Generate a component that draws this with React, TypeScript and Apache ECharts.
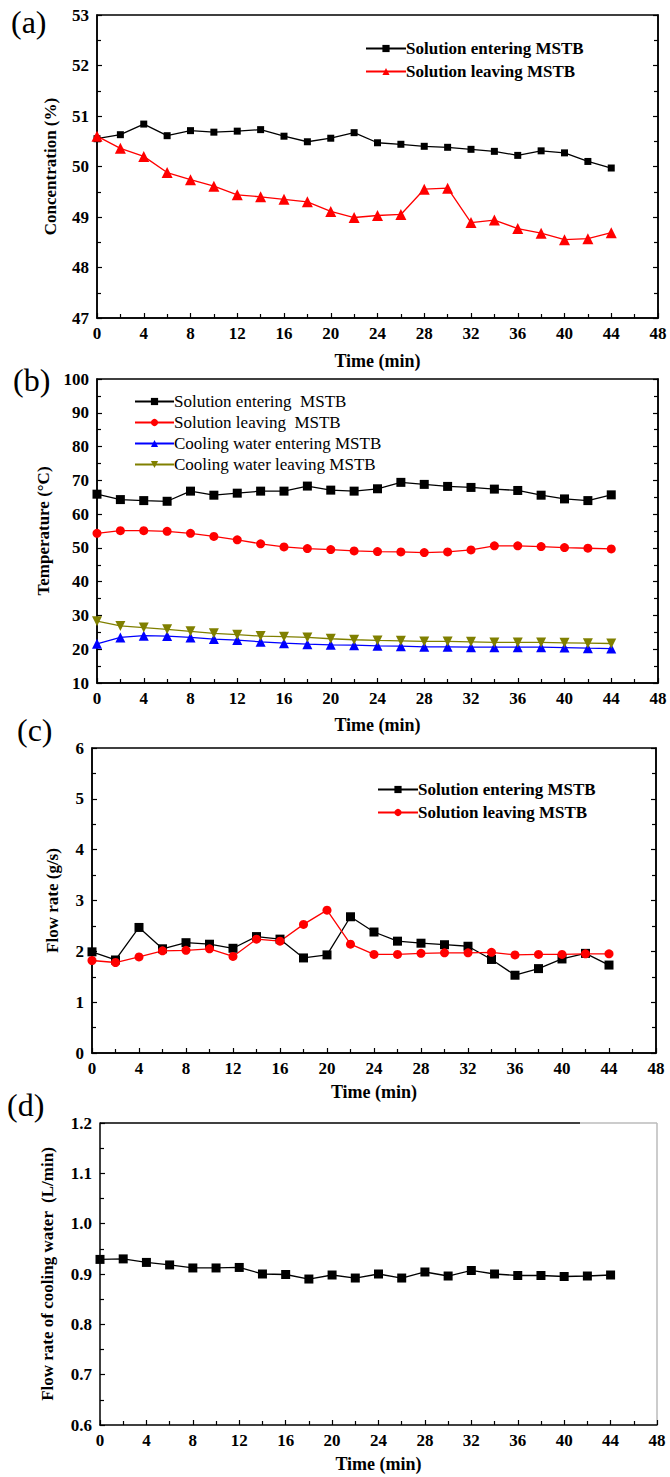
import React, { useEffect, useRef } from "react";
import * as echarts from "echarts";

const times = [0, 2, 4, 6, 8, 10, 12, 14, 16, 18, 20, 22, 24, 26, 28, 30, 32, 34, 36, 38, 40, 42, 44];

// (a) Concentration (%)
const concEntering = [50.55, 50.63, 50.84, 50.61, 50.71, 50.68, 50.70, 50.73, 50.60, 50.49, 50.56, 50.67, 50.47, 50.44, 50.40, 50.38, 50.34, 50.30, 50.22, 50.31, 50.27, 50.10, 49.97];
const concLeaving = [50.60, 50.36, 50.20, 49.88, 49.74, 49.61, 49.44, 49.40, 49.35, 49.30, 49.11, 48.99, 49.03, 49.05, 49.55, 49.57, 48.89, 48.94, 48.77, 48.68, 48.55, 48.57, 48.69];

// (b) Temperature (°C)
const tempSolEntering = [65.9, 64.3, 64.0, 63.8, 66.8, 65.6, 66.2, 66.8, 66.8, 68.3, 67.1, 66.8, 67.5, 69.4, 68.8, 68.2, 67.9, 67.4, 67.0, 65.6, 64.5, 64.0, 65.7];
const tempSolLeaving = [54.3, 55.1, 55.1, 54.9, 54.3, 53.4, 52.4, 51.2, 50.3, 49.8, 49.5, 49.1, 48.9, 48.8, 48.6, 48.8, 49.4, 50.6, 50.6, 50.4, 50.1, 49.9, 49.7];
const tempCwEntering = [21.6, 23.5, 24.0, 23.9, 23.5, 23.0, 22.7, 22.2, 21.8, 21.5, 21.3, 21.2, 21.0, 20.9, 20.7, 20.7, 20.6, 20.6, 20.6, 20.6, 20.5, 20.3, 20.2];
const tempCwLeaving = [28.3, 26.9, 26.4, 25.9, 25.3, 24.7, 24.3, 23.9, 23.7, 23.5, 23.1, 22.8, 22.6, 22.5, 22.3, 22.3, 22.2, 22.0, 22.0, 22.0, 21.9, 21.8, 21.7];

// (c) Flow rate (g/s)
const flowEntering = [1.99, 1.83, 2.47, 2.05, 2.17, 2.14, 2.06, 2.29, 2.24, 1.87, 1.93, 2.68, 2.38, 2.20, 2.16, 2.13, 2.10, 1.84, 1.53, 1.66, 1.85, 1.96, 1.73];
const flowLeaving = [1.82, 1.78, 1.89, 2.01, 2.02, 2.05, 1.90, 2.24, 2.20, 2.53, 2.81, 2.14, 1.94, 1.94, 1.96, 1.97, 1.97, 1.98, 1.93, 1.94, 1.94, 1.95, 1.95];

// (d) Flow rate of cooling water (L/min)
const coolingFlow = [0.929, 0.930, 0.923, 0.918, 0.912, 0.912, 0.913, 0.900, 0.899, 0.890, 0.898, 0.892, 0.900, 0.892, 0.904, 0.896, 0.907, 0.900, 0.897, 0.897, 0.895, 0.896, 0.898];

const xTicks = { min: 0, max: 48, interval: 4 };
const yRanges = [
  { min: 47, max: 53, interval: 1, digits: 0 },
  { min: 10, max: 100, interval: 10, digits: 0 },
  { min: 0, max: 6, interval: 1, digits: 0 },
  { min: 0.6, max: 1.2, interval: 0.1, digits: 1 },
];
const xTitle = "Time (min)";
const yTitles = ["Concentration (%)", "Temperature (\u00b0C)", "Flow rate (g/s)", "Flow rate of cooling water  (L/min)"];
const panelLetters = ["(a)", "(b)", "(c)", "(d)"];

const FONT = '"Liberation Serif", "Times New Roman", serif';

const pairs = (ys: number[]) => times.map((t, i) => [t, ys[i]]);

export default function App() {
  const ref = useRef<HTMLDivElement>(null);

  useEffect(() => {
    if (!ref.current) return;
    const chart = echarts.init(ref.current, undefined, { renderer: "svg" });

    const grids = [
      { left: 97, top: 15, width: 561, height: 303 },
      { left: 97, top: 379, width: 561, height: 304 },
      { left: 92, top: 748, width: 564, height: 305 },
      { left: 100, top: 1123, width: 557, height: 302 },
    ];
    const xNameGaps = [34, 33, 30, 30];
    const yNameGaps = [38, 45, 31, 44];

    const xAxes: any[] = grids.map((_, i) => ({
      type: "value",
      gridIndex: i,
      ...xTicks,
      name: xTitle,
      nameLocation: "middle",
      nameGap: xNameGaps[i],
      nameTextStyle: { fontFamily: FONT, fontWeight: "bold", fontSize: 18, color: "#000" },
      axisLine: { show: true, lineStyle: { color: "#000", width: 1.5 } },
      axisTick: { show: true, inside: true, length: 5, lineStyle: { color: "#000", width: 1.2 } },
      minorTick: { show: true, splitNumber: 2, length: 4, lineStyle: { color: "#000", width: 1.2 } },
      splitLine: { show: false },
      axisLabel: { fontFamily: FONT, fontWeight: "bold", fontSize: 17, color: "#000", margin: 7 },
    }));

    const yAxes: any[] = [];
    grids.forEach((_, i) => {
      const r = yRanges[i];
      yAxes.push({
        type: "value",
        gridIndex: i,
        min: r.min,
        max: r.max,
        interval: r.interval,
        name: yTitles[i],
        nameLocation: "middle",
        nameGap: yNameGaps[i],
        nameTextStyle: { fontFamily: FONT, fontWeight: "bold", fontSize: 17, color: "#000" },
        axisLine: { show: true, lineStyle: { color: "#000", width: 1.5 } },
        axisTick: { show: true, inside: true, length: 5, lineStyle: { color: "#000", width: 1.2 } },
        minorTick: { show: true, splitNumber: 2, length: 4, lineStyle: { color: "#000", width: 1.2 } },
        splitLine: { show: false },
        axisLabel: {
          fontFamily: FONT,
          fontWeight: "bold",
          fontSize: 17,
          color: "#000",
          margin: 8,
          formatter: (v: number) => v.toFixed(r.digits),
        },
      });
      if (i < 3) {
        yAxes.push({
          type: "value",
          gridIndex: i,
          position: "right",
          min: r.min,
          max: r.max,
          interval: r.interval,
          axisLine: { show: true, lineStyle: { color: "#000", width: 1.5 } },
          axisTick: { show: true, inside: true, length: 5, lineStyle: { color: "#000", width: 1.2 } },
          minorTick: { show: true, splitNumber: 2, length: 4, lineStyle: { color: "#000", width: 1.2 } },
          splitLine: { show: false },
          axisLabel: { show: false },
        });
      }
    });
    // y axis indices: a:0(left),1(right); b:2,3; c:4,5; d:6
    const yIdx = [0, 2, 4, 6];

    const mk = (name: string, grid: number, ys: number[], color: string, symbol: string, size: number, rotate = 0) => ({
      type: "line",
      name,
      xAxisIndex: grid,
      yAxisIndex: yIdx[grid],
      data: pairs(ys),
      symbol,
      symbolSize: size,
      symbolRotate: rotate,
      itemStyle: { color },
      lineStyle: { color, width: 1.3 },
      z: 3,
    });

    const series: any[] = [
      mk("a|Solution entering MSTB", 0, concEntering, "#000000", "rect", 7),
      mk("a|Solution leaving MSTB", 0, concLeaving, "#ff0000", "triangle", 11),
      mk("b|Solution entering  MSTB", 1, tempSolEntering, "#000000", "rect", 9),
      mk("b|Solution leaving  MSTB", 1, tempSolLeaving, "#ff0000", "circle", 9),
      mk("b|Cooling water entering MSTB", 1, tempCwEntering, "#0000ff", "triangle", 10),
      mk("b|Cooling water leaving MSTB", 1, tempCwLeaving, "#808000", "triangle", 10, 180),
      mk("c|Solution entering MSTB", 2, flowEntering, "#000000", "rect", 9),
      mk("c|Solution leaving MSTB", 2, flowLeaving, "#ff0000", "circle", 9),
      mk("d|Cooling water", 3, coolingFlow, "#000000", "rect", 9),
    ];

    const legendBase = {
      orient: "vertical",
      itemWidth: 40,
      itemHeight: 9,
      formatter: (n: string) => n.split("|")[1],
      selectedMode: false,
    };
    const legends: any[] = [
      {
        ...legendBase,
        left: 360,
        top: 35,
        itemGap: 6,
        data: ["a|Solution entering MSTB", "a|Solution leaving MSTB"],
        textStyle: { fontFamily: FONT, fontWeight: "bold", fontSize: 17, color: "#000", padding: [0, 0, 0, -5] },
      },
      {
        ...legendBase,
        left: 129,
        top: 388,
        itemGap: 4,
        itemWidth: 39,
        data: [
          "b|Solution entering  MSTB",
          "b|Solution leaving  MSTB",
          "b|Cooling water entering MSTB",
          "b|Cooling water leaving MSTB",
        ],
        textStyle: { fontFamily: FONT, fontWeight: "normal", fontSize: 17, color: "#000", padding: [0, 0, 0, -5] },
      },
      {
        ...legendBase,
        left: 372,
        top: 776,
        itemGap: 6,
        data: ["c|Solution entering MSTB", "c|Solution leaving MSTB"],
        textStyle: { fontFamily: FONT, fontWeight: "bold", fontSize: 17, color: "#000", padding: [0, 0, 0, -5] },
      },
    ];

    const letterPos = [
      [11, 6],
      [13, 364],
      [17, 714],
      [7, 1089],
    ];
    const graphics: any[] = panelLetters.map((t, i) => ({
      type: "text",
      left: letterPos[i][0],
      top: letterPos[i][1],
      style: { text: t, fontFamily: FONT, fontSize: 32, fill: "#000" },
    }));
    // (d) frame: top and right borders
    const gd = grids[3];
    graphics.push(
      {
        type: "line",
        shape: { x1: gd.left, y1: gd.top, x2: 580, y2: gd.top },
        style: { stroke: "#000", lineWidth: 1.5 },
      },
      {
        type: "line",
        shape: { x1: 580, y1: gd.top, x2: gd.left + gd.width, y2: gd.top },
        style: { stroke: "#bbbbbb", lineWidth: 1.5 },
      },
      {
        type: "line",
        shape: { x1: gd.left + gd.width, y1: gd.top, x2: gd.left + gd.width, y2: gd.top + gd.height },
        style: { stroke: "#bbbbbb", lineWidth: 1.5 },
      }
    );

    chart.setOption({
      animation: false,
      backgroundColor: "#ffffff",
      grid: grids.map((g, i) => ({
        ...g,
        show: i < 3,
        borderColor: "#000",
        borderWidth: 1.5,
        containLabel: false,
      })),
      xAxis: xAxes,
      yAxis: yAxes,
      legend: legends,
      series,
      graphic: graphics,
    });

    return () => chart.dispose();
  }, []);

  return (
    <div
      ref={ref}
      style={{ position: "absolute", left: 0, top: 0, width: 670, height: 1477, background: "#fff" }}
    />
  );
}
